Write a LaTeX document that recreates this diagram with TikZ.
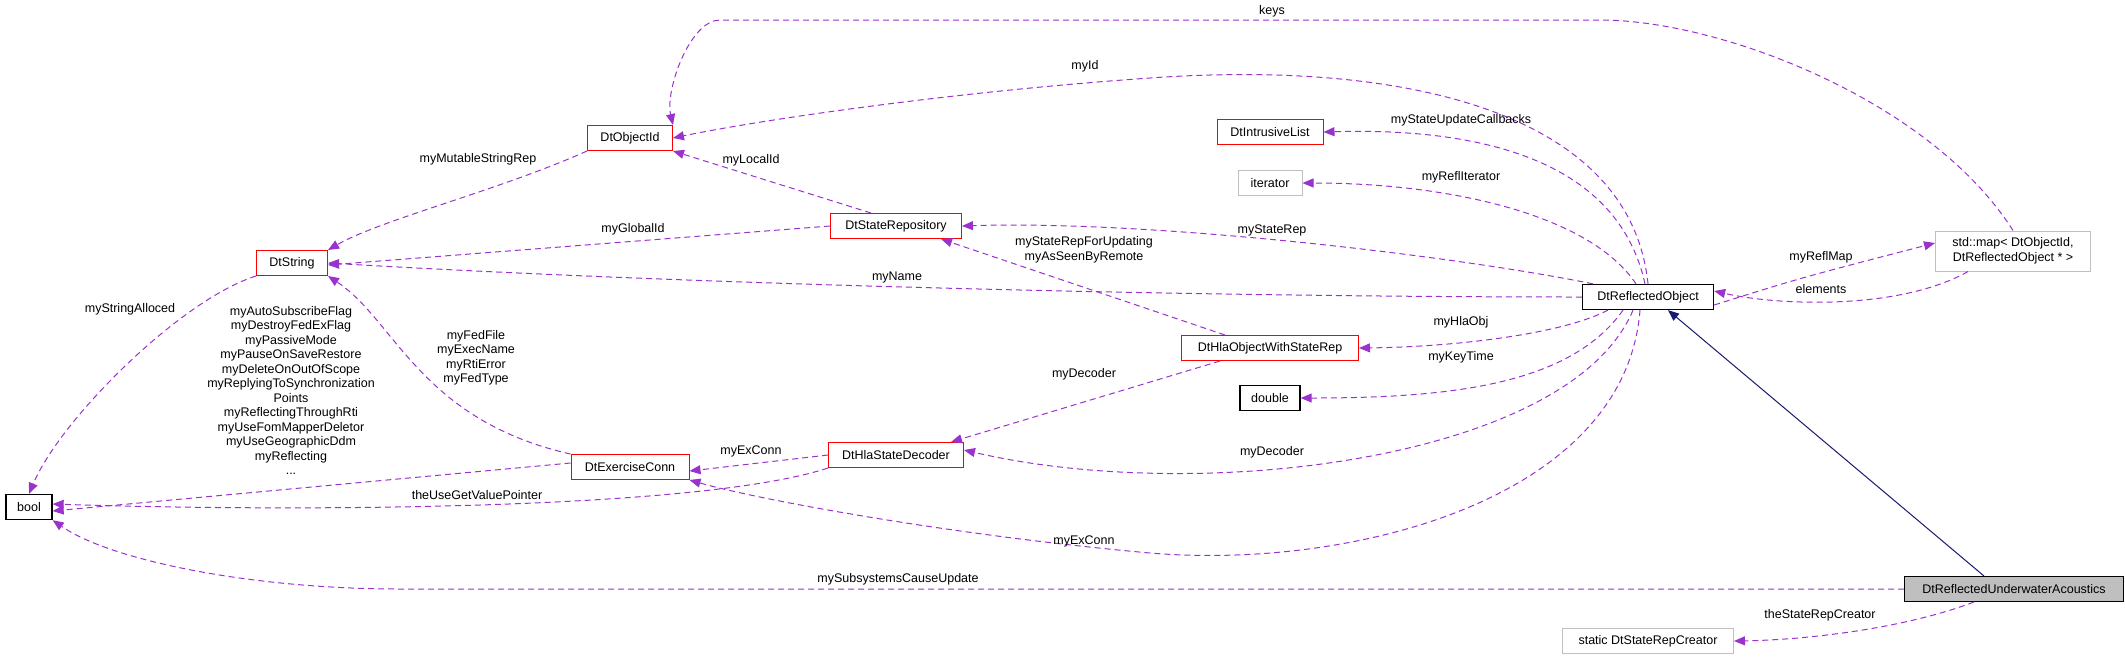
\documentclass[tikz,border=0pt]{standalone}
\usepackage{fontspec}
\setmainfont{Liberation Sans}
\usetikzlibrary{arrows.meta}
\definecolor{edgec}{HTML}{9A32CD}
\definecolor{navyc}{HTML}{191970}
\definecolor{grayb}{HTML}{BFBFBF}
\begin{document}
\begin{tikzpicture}[x=1pt,y=-1pt,
  font=\fontsize{12.5}{14.5}\selectfont,
  box/.style={draw,line width=1pt,minimum height=25pt,inner sep=2pt,fill=white},
  redb/.style={box,draw=red},
  blackb/.style={box,draw=black,line width=1.3pt},
  grayn/.style={box,draw=grayb},
  curb/.style={box,draw=black,fill=grayb},
  mem/.style={draw=edgec,line width=1pt,dash pattern=on 6pt off 4pt,-{Triangle[length=11pt,width=9pt]},fill=none},
  inh/.style={draw=navyc,line width=1pt,-{Triangle[length=11pt,width=9pt]}},
  lab/.style={inner sep=0pt,align=center}]
\useasboundingbox (0,0) rectangle (2125,657);
% nodes
\node[redb,minimum width=85pt] (oid) at (630,138) {DtObjectId};
\node[redb,minimum width=71pt] (str) at (292,263) {DtString};
\node[redb,minimum width=131pt] (srep) at (896,226) {DtStateRepository};
\node[blackb,minimum width=46pt] (bool) at (29,507) {bool};
\node[redb,minimum width=118pt] (exc) at (630,467) {DtExerciseConn};
\node[redb,minimum width=135pt] (dec) at (896,455) {DtHlaStateDecoder};
\node[redb,minimum width=106pt] (ilist) at (1270,132) {DtIntrusiveList};
\node[grayn,minimum width=64pt] (iter) at (1270,183) {iterator};
\node[blackb,minimum width=131pt] (ro) at (1648,297) {DtReflectedObject};
\node[grayn,minimum width=155pt,minimum height=40pt,align=center] (map) at (2013,251) {std::map< DtObjectId,\\ DtReflectedObject * >};
\node[redb,minimum width=177pt] (hla) at (1270,348) {DtHlaObjectWithStateRep};
\node[blackb,minimum width=60pt] (dbl) at (1270,398) {double};
\node[curb,minimum width=219pt] (rua) at (2014,589) {DtReflectedUnderwaterAcoustics};
\node[grayn,minimum width=171pt] (src) at (1648,641) {static DtStateRepCreator};
% edges
\draw[mem] (map.north) .. controls (1930,100) and (1720,20) .. (1600,20) -- (720,20) .. controls (690,20) and (665,90) .. (oid.north east);
\draw[mem] (ro.north) .. controls (1630,110) and (1400,60) .. (1150,78) .. controls (950,92) and (760,120) .. (oid.east);
\draw[mem] ([xshift=-3pt]ro.north) .. controls (1620,170) and (1500,127) .. (ilist.east);
\draw[mem] ([xshift=-12pt]ro.north) .. controls (1590,215) and (1450,183) .. (iter.east);
\draw[mem] ([xshift=-55pt]ro.north) .. controls (1450,255) and (1150,220) .. (srep.east);
\draw[mem] (ro.west) .. controls (1200,297) and (700,285) .. (str.east);
\draw[mem] ([xshift=-40pt]ro.south) .. controls (1560,335) and (1450,347) .. (hla.east);
\draw[mem] ([xshift=-25pt]ro.south) .. controls (1570,385) and (1450,398) .. (dbl.east);
\draw[mem] ([xshift=-15pt]ro.south) .. controls (1570,460) and (1200,505) .. ([yshift=5pt]dec.east);
\draw[mem] ([xshift=-8pt]ro.south) .. controls (1625,500) and (1350,570) .. (1150,553) .. controls (950,535) and (760,500) .. (exc.south east);
\draw[mem] ([yshift=-8pt]ro.east) .. controls (1800,278) .. ([yshift=8pt]map.west);
\draw[mem] ([xshift=-45pt]map.south) .. controls (1900,310) and (1780,306) .. ([yshift=6pt]ro.east);
\draw[inh] ([xshift=-30pt]rua.north) -- ([xshift=20pt]ro.south);
\draw[mem] (rua.west) -- (400,589) .. controls (250,589) and (110,560) .. (bool.south east);
\draw[mem] ([xshift=-40pt]rua.south) .. controls (1900,630) and (1800,640) .. (src.east);
\draw[mem] (oid.south west) .. controls (500,190) and (380,220) .. (str.north east);
\draw[mem] ([xshift=-25pt]srep.north) -- (oid.south east);
\draw[mem] (srep.west) -- ([yshift=-2pt]str.east);
\draw[mem] (str.south west) .. controls (180,300) and (60,420) .. (bool.north);
\draw[mem] ([yshift=4pt]exc.west) -- ([yshift=-4pt]bool.east);
\draw[mem] (exc.north west) .. controls (420,420) and (395,320) .. (str.south east);
\draw[mem] (dec.west) -- ([yshift=-4pt]exc.east);
\draw[mem] (dec.south west) .. controls (700,510) and (300,512) .. ([yshift=3pt]bool.east);
\draw[mem] ([xshift=-50pt]hla.south) -- ([xshift=55pt]dec.north);
\draw[mem] ([xshift=-45pt]hla.north) -- ([xshift=45pt]srep.south);
% labels
\node[lab] (l1) at (1272,11) {keys};
\node[lab] (l2) at (1085,66) {myId};
\node[lab] (l3) at (1461,120) {myStateUpdateCallbacks};
\node[lab] (l4) at (1461,177) {myReflIterator};
\node[lab] (l5) at (1272,230) {myStateRep};
\node[lab] (l6) at (1084,250) {myStateRepForUpdating\\myAsSeenByRemote};
\node[lab] (l7) at (897,277) {myName};
\node[lab] (l8) at (1821,257) {myReflMap};
\node[lab] (l9) at (1821,289) {elements};
\node[lab] (l10) at (1461,322) {myHlaObj};
\node[lab] (l11) at (1461,357) {myKeyTime};
\node[lab] (l12) at (1084,374) {myDecoder};
\node[lab] (l13) at (1272,452) {myDecoder};
\node[lab] (l14) at (1084,541) {myExConn};
\node[lab] (l15) at (898,579) {mySubsystemsCauseUpdate};
\node[lab] (l16) at (1820,615) {theStateRepCreator};
\node[lab] (l17) at (478,159) {myMutableStringRep};
\node[lab] (l18) at (751,160) {myLocalId};
\node[lab] (l19) at (633,229) {myGlobalId};
\node[lab] (l20) at (130,309) {myStringAlloced};
\node[lab,anchor=north] (l21) at (291,306) {myAutoSubscribeFlag\\myDestroyFedExFlag\\myPassiveMode\\myPauseOnSaveRestore\\myDeleteOnOutOfScope\\myReplyingToSynchronization\\Points\\myReflectingThroughRti\\myUseFomMapperDeletor\\myUseGeographicDdm\\myReflecting\\...};
\node[lab] (l22) at (476,358) {myFedFile\\myExecName\\myRtiError\\myFedType};
\node[lab] (l23) at (751,451) {myExConn};
\node[lab] (l24) at (477,495) {theUseGetValuePointer};
\end{tikzpicture}
\end{document}
